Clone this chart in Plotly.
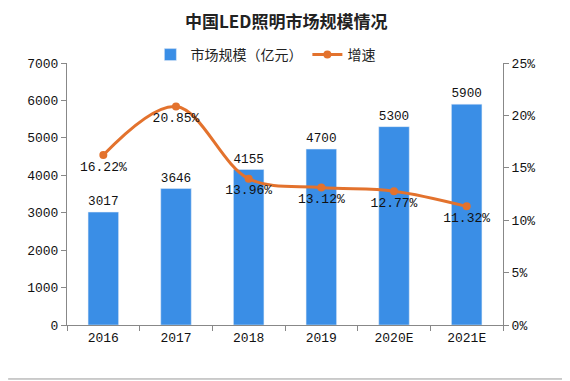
import plotly.graph_objects as go

years = ["2016", "2017", "2018", "2019", "2020E", "2021E"]
market_size = [3017, 3646, 4155, 4700, 5300, 5900]
growth = [16.22, 20.85, 13.96, 13.12, 12.77, 11.32]
growth_labels = ["16.22%", "20.85%", "13.96%", "13.12%", "12.77%", "11.32%"]

num_font = "Liberation Mono, DejaVu Sans Mono, monospace"
cjk_font = "Noto Sans CJK SC, sans-serif"

fig = go.Figure()
fig.add_trace(go.Bar(
    x=years, y=market_size, name="市场规模（亿元）",
    marker=dict(color="#3A8EE6"), width=0.42,
    text=[str(v) for v in market_size], textposition="outside",
    textfont=dict(family=num_font, size=13, color="#111"),
    cliponaxis=False,
))
fig.add_trace(go.Scatter(
    x=years, y=growth, name="增速", yaxis="y2",
    mode="lines+markers+text",
    line=dict(color="#E3722D", width=3, shape="spline", smoothing=1.0),
    marker=dict(color="#E3722D", size=8),
    text=growth_labels, textposition="bottom center",
    textfont=dict(family=num_font, size=13, color="#111"),
    cliponaxis=False,
))

fig.update_layout(
    width=562, height=373,
    margin=dict(l=59, r=67, t=55, b=56, autoexpand=False),
    paper_bgcolor="white", plot_bgcolor="white",
    title=dict(text="<b>中国LED照明市场规模情况</b>", x=0.495, xanchor="center",
               y=0.962, yanchor="middle",
               font=dict(family=cjk_font, size=17, color="#222")),
    legend=dict(orientation="h", x=0.455, xanchor="center",
                yref="container", y=0.874, yanchor="middle",
                font=dict(family=cjk_font, size=14, color="#222"),
                bgcolor="rgba(0,0,0,0)", itemwidth=30),
    showlegend=True,
    xaxis=dict(type="category", showline=True, linecolor="#888", linewidth=1,
               ticks="outside", ticklen=5, tickcolor="#888", tickson="boundaries",
               showgrid=False,
               tickfont=dict(family=num_font, size=13, color="#111")),
    yaxis=dict(range=[0, 7000], dtick=1000, showline=True, linecolor="#888",
               ticks="outside", ticklen=5, tickcolor="#888", showgrid=False,
               zeroline=False,
               tickfont=dict(family=num_font, size=13, color="#111")),
    yaxis2=dict(range=[0, 25], dtick=5, overlaying="y", side="right",
                showline=True, linecolor="#888", ticks="outside", ticklen=5,
                tickcolor="#888", showgrid=False, zeroline=False,
                ticksuffix="%",
                tickfont=dict(family=num_font, size=13, color="#111")),
    shapes=[
        dict(type="line", xref="paper", yref="paper", x0=1.143, x1=1.143,
             y0=-0.206, y1=1.21, line=dict(color="#999", width=1)),
        dict(type="line", xref="paper", yref="paper", x0=-0.135, x1=1.143,
             y0=-0.206, y1=-0.206, line=dict(color="#999", width=1)),
    ],
)

fig.write_html("out.html")
